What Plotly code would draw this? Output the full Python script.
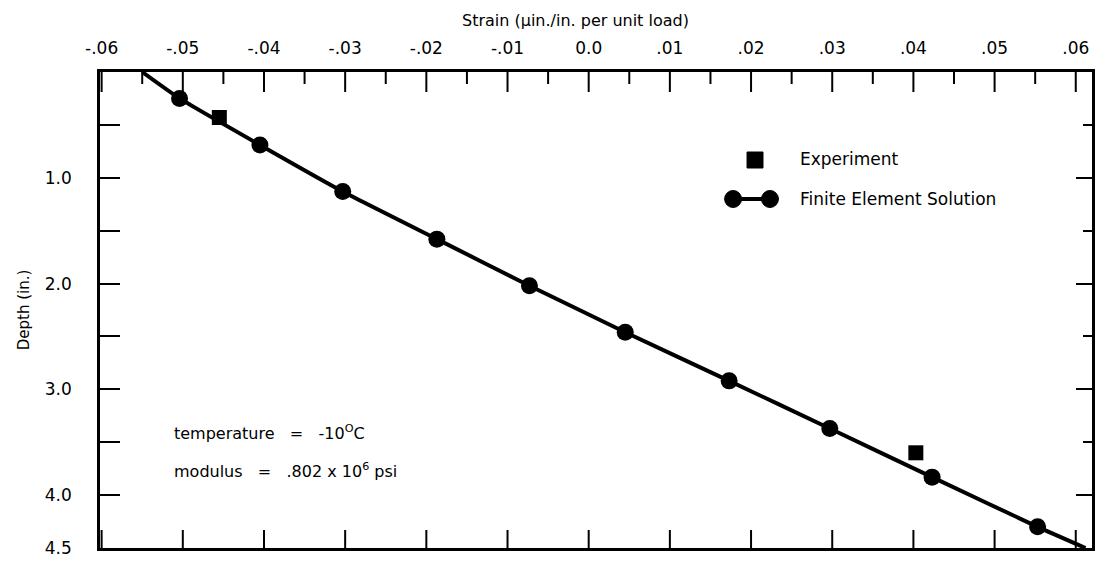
import plotly.graph_objects as go

# Axis ticks
strain_ticks = [-0.06, -0.05, -0.04, -0.03, -0.02, -0.01, 0.0, 0.01, 0.02, 0.03, 0.04, 0.05, 0.06]
strain_labels = ["-.06", "-.05", "-.04", "-.03", "-.02", "-.01", "0.0", ".01", ".02", ".03", ".04", ".05", ".06"]
strain_minor = [-0.055, -0.045, -0.035, -0.025, -0.015, -0.005, 0.005, 0.015, 0.025, 0.035, 0.045, 0.055]
depth_ticks = [0.5, 1.0, 1.5, 2.0, 2.5, 3.0, 3.5, 4.0, 4.5]
depth_labels = ["", "1.0", "", "2.0", "", "3.0", "", "4.0", "4.5"]
depth_major_right = [1.0, 2.0, 3.0, 4.0]
depth_minor_right = [0.5, 1.5, 2.5, 3.5]

# Finite element solution nodes
fe_strain = [-0.0504, -0.0405, -0.0303, -0.0187, -0.0073, 0.0045, 0.0173, 0.0297, 0.0423, 0.0553]
fe_depth = [0.25, 0.69, 1.13, 1.58, 2.02, 2.46, 2.92, 3.37, 3.83, 4.30]

# Curve continued to the top surface and the bottom of the section
curve_start_strain, curve_start_depth = -0.0550, 0.0
curve_end_strain, curve_end_depth = 0.0612, 4.5

# Measured strains
exp_strain = [-0.0455, 0.0403]
exp_depth = [0.43, 3.60]

FONT = "DejaVu Sans"
X_RANGE = [-0.0602, 0.0620]
Y_RANGE = [4.5, 0.0]
PLOT_W, PLOT_H = 995.0, 476.0

fig = go.Figure()

fig.add_trace(go.Scatter(
    x=[curve_start_strain] + fe_strain + [curve_end_strain],
    y=[curve_start_depth] + fe_depth + [curve_end_depth],
    mode="lines",
    line=dict(color="black", width=4, shape="spline", smoothing=0.5),
    hoverinfo="skip",
))
fig.add_trace(go.Scatter(
    x=fe_strain, y=fe_depth, mode="markers",
    marker=dict(symbol="circle", size=17, color="black"),
    name="Finite Element Solution",
))
fig.add_trace(go.Scatter(
    x=exp_strain, y=exp_depth, mode="markers",
    marker=dict(symbol="square", size=15, color="black"),
    name="Experiment",
))
# Empty trace so the right-hand tick axis gets drawn
fig.add_trace(go.Scatter(x=[None], y=[None], xaxis="x", yaxis="y2",
                         mode="markers", hoverinfo="skip", showlegend=False))

axis_common = dict(showgrid=False, zeroline=False, tickcolor="black", tickwidth=2)

fig.update_layout(
    width=1100, height=563,
    margin=dict(l=100, r=5, t=72, b=15),
    plot_bgcolor="white", paper_bgcolor="white",
    showlegend=False,
    font=dict(family=FONT, color="black"),
    xaxis=dict(
        side="top", range=X_RANGE, tickmode="array",
        tickvals=strain_ticks, ticktext=strain_labels,
        ticks="", ticklabelstandoff=8,
        showline=True, linewidth=2.5, linecolor="black", mirror=True,
        tickfont=dict(size=17, family=FONT),
        **axis_common,
    ),
    yaxis=dict(
        range=Y_RANGE, tickmode="array", tickvals=depth_ticks, ticktext=depth_labels,
        ticks="inside", ticklen=20, ticklabelstandoff=22,
        showline=True, linewidth=2.5, linecolor="black", mirror=True,
        tickfont=dict(size=17, family=FONT),
        title=dict(text="Depth (in.)", font=dict(size=15, family=FONT), standoff=12),
        **axis_common,
    ),
    yaxis2=dict(
        overlaying="y", anchor="x", side="right", range=Y_RANGE,
        tickmode="array", tickvals=depth_major_right,
        ticks="inside", ticklen=16, showticklabels=False, showline=False,
        minor=dict(tickmode="array", tickvals=depth_minor_right, ticks="inside", ticklen=9,
                   tickwidth=2, tickcolor="black", showgrid=False),
        **axis_common,
    ),
)

# Strain tick marks pointing into the frame: top edge (major + minor), bottom edge (major)
def tick_mark(xv, y_from, length_px):
    direction = -1 if y_from == 1 else 1
    fig.add_shape(type="line", xref="x", yref="paper",
                  x0=xv, x1=xv, y0=y_from, y1=y_from + direction * length_px / PLOT_H,
                  line=dict(color="black", width=2))

for xv in strain_ticks:
    tick_mark(xv, 1, 20)
    tick_mark(xv, 0, 18)
for xv in strain_minor:
    tick_mark(xv, 1, 12)

# Top axis title
fig.add_annotation(
    text="Strain (\u00b5in./in. per unit load)", xref="paper", yref="paper",
    x=0.479, y=1.0, yshift=52, showarrow=False, xanchor="center", yanchor="middle",
    font=dict(size=16, family=FONT),
)

# Key
def px_x(px):
    return (px - 100) / PLOT_W

def px_y(py):
    return (548 - py) / PLOT_H

fig.add_shape(type="rect", xref="paper", yref="paper",
              x0=px_x(749), x1=px_x(765), y0=px_y(168), y1=px_y(152),
              fillcolor="black", line=dict(color="black", width=1))
fig.add_shape(type="line", xref="paper", yref="paper",
              x0=px_x(735), x1=px_x(772), y0=px_y(199), y1=px_y(199),
              line=dict(color="black", width=4))
for cx in (735, 772):
    fig.add_shape(type="circle", xref="paper", yref="paper",
                  x0=px_x(cx - 8.5), x1=px_x(cx + 8.5),
                  y0=px_y(199 + 8.5), y1=px_y(199 - 8.5),
                  fillcolor="black", line=dict(color="black", width=1))

fig.add_annotation(text="Experiment", xref="paper", yref="paper",
                   x=px_x(800), y=px_y(159), xanchor="left", yanchor="middle",
                   showarrow=False, font=dict(size=17, family=FONT))
fig.add_annotation(text="Finite Element Solution", xref="paper", yref="paper",
                   x=px_x(800), y=px_y(199), xanchor="left", yanchor="middle",
                   showarrow=False, font=dict(size=17, family=FONT))

# Test conditions
fig.add_annotation(text="temperature   =   -10<sup>O</sup>C", xref="paper", yref="paper",
                   x=px_x(172), y=px_y(432), xanchor="left", yanchor="middle",
                   showarrow=False, font=dict(size=16, family=FONT))
fig.add_annotation(text="modulus   =   .802 x 10<sup>6</sup> psi", xref="paper", yref="paper",
                   x=px_x(172), y=px_y(470), xanchor="left", yanchor="middle",
                   showarrow=False, font=dict(size=16, family=FONT))

fig.write_html("out.html")
